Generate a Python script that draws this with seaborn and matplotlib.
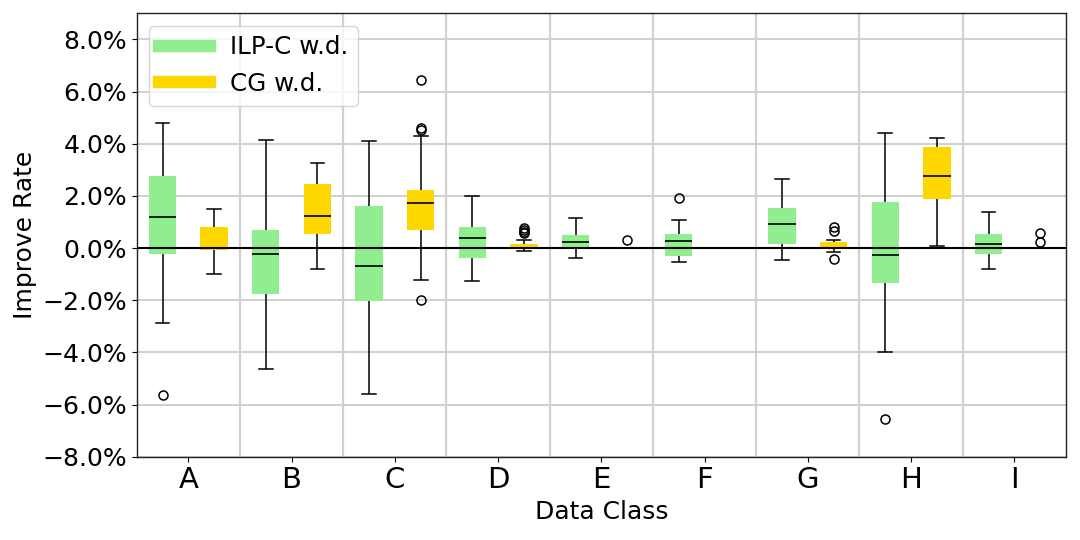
import numpy as np
import pandas as pd
import matplotlib
matplotlib.use("Agg")
import matplotlib.pyplot as plt
import matplotlib.ticker as mticker
from matplotlib.lines import Line2D
import seaborn as sns

categories = ["A", "B", "C", "D", "E", "F", "G", "H", "I"]
series = ["ILP-C w.d.", "CG w.d."]
colors = ["#90EE90", "#FFD700"]

# five-number summaries (percent)
ilp_low  = [-2.89, -4.63, -5.59, -1.28, -0.37, -0.54, -0.45, -4.00, -0.82]
ilp_q1   = [-0.22, -1.75, -2.03, -0.38, -0.05, -0.31,  0.15, -1.34, -0.23]
ilp_med  = [ 1.19, -0.23, -0.67,  0.40,  0.22,  0.27,  0.92, -0.26,  0.14]
ilp_q3   = [ 2.76,  0.69,  1.62,  0.82,  0.49,  0.55,  1.52,  1.75,  0.55]
ilp_high = [ 4.80,  4.15,  4.11,  1.98,  1.14,  1.06,  2.66,  4.41,  1.38]
ilp_out  = [[-5.64], [], [], [], [], [1.93], [], [-6.57], []]

cg_low  = [-0.99, -0.82, -1.23, -0.13, 0.0, 0.0, -0.17, 0.09, 0.0]
cg_q1   = [-0.06,  0.55,  0.69,  0.00, 0.0, 0.0,  0.00, 1.88, 0.0]
cg_med  = [ 0.00,  1.22,  1.73,  0.00, 0.0, 0.0,  0.00, 2.76, 0.0]
cg_q3   = [ 0.81,  2.46,  2.21,  0.15, 0.0, 0.0,  0.24, 3.86, 0.0]
cg_high = [ 1.50,  3.27,  4.31,  0.32, 0.0, 0.0,  0.30, 4.22, 0.0]
cg_out  = [[], [], [-1.98, 4.52, 4.60, 6.46], [0.56, 0.62, 0.68, 0.75], [0.32],
           [], [-0.41, 0.66, 0.82], [], [0.22, 0.56]]

summaries = {
    series[0]: (ilp_low, ilp_q1, ilp_med, ilp_q3, ilp_high, ilp_out),
    series[1]: (cg_low, cg_q1, cg_med, cg_q3, cg_high, cg_out),
}

rows = []
for s, (lo, q1, md, q3, hi, out) in summaries.items():
    for i, c in enumerate(categories):
        vals = [lo[i]] + [q1[i]] * 20 + [md[i]] * 20 + [q3[i]] * 20 + [hi[i]] + list(out[i])
        for v in vals:
            rows.append({"Data Class": c, "series": s, "value": v})
df = pd.DataFrame(rows)

fig = plt.figure(figsize=(10.8, 5.4), dpi=100)
ax = fig.add_axes([0.1266, 0.1543, 0.8604, 0.8210])

sns.boxplot(
    data=df, x="Data Class", y="value", hue="series",
    order=categories, hue_order=series, palette=colors,
    saturation=1, width=1.0, gap=0.47, legend=False, ax=ax,
    boxprops=dict(edgecolor="none", linewidth=0),
    medianprops=dict(color="black", linewidth=1.2),
    whiskerprops=dict(color="black", linewidth=1.1),
    capprops=dict(color="black", linewidth=1.1),
    flierprops=dict(marker="o", markerfacecolor="none", markeredgecolor="black",
                    markersize=6.5, markeredgewidth=1.1),
)

ax.axhline(0, color="black", linewidth=1.5, zorder=3)
ax.set_ylim(-8, 9)
ax.set_xlim(-0.5, len(categories) - 0.5)
ax.set_yticks(np.arange(-8, 9, 2))
ax.yaxis.set_major_formatter(mticker.PercentFormatter(xmax=100, decimals=1))
ax.set_xticks(range(len(categories)))
ax.set_xticklabels(categories, fontsize=21)
ax.xaxis.set_minor_locator(mticker.FixedLocator(np.arange(0.5, len(categories) - 0.5, 1)))
ax.tick_params(axis="x", which="minor", length=0)
ax.tick_params(axis="y", labelsize=18)
ax.grid(axis="y", which="major", color="#d0d0d0", linewidth=1.4)
ax.grid(axis="x", which="minor", color="#d0d0d0", linewidth=1.6)
ax.grid(axis="x", which="major", visible=False)
ax.set_axisbelow(True)
for sp in ax.spines.values():
    sp.set_color("#222222")
    sp.set_linewidth(1.0)

ax.set_xlabel("Data Class", fontsize=18)
ax.set_ylabel("Improve Rate", fontsize=18)

handles = [Line2D([0], [0], color=c, linewidth=8.9, solid_capstyle="projecting") for c in colors]
ax.legend(handles, series, loc="upper left", fontsize=17.7, handlelength=2.1,
          framealpha=0.8, edgecolor="#cccccc")

fig.savefig("out.png", dpi=100)
